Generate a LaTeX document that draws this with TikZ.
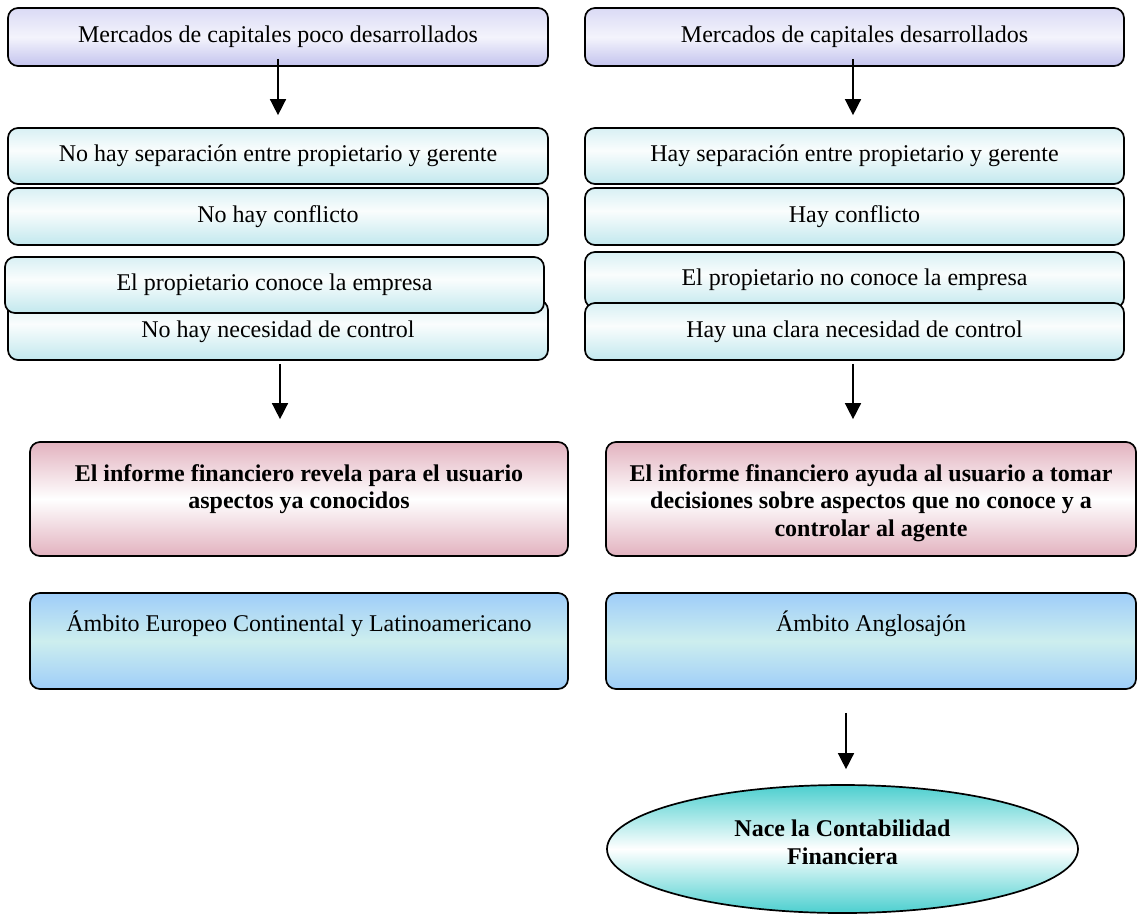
\documentclass[tikz,border=0pt]{standalone}
\usepackage{fontspec}
\setmainfont{Liberation Serif}
\usetikzlibrary{arrows.meta,shapes.geometric}
\definecolor{ptop}{HTML}{DADAF5}
\definecolor{pmid}{HTML}{F4F4FC}
\definecolor{pbot}{HTML}{C3C3EE}
\definecolor{ctop}{HTML}{D8F0F4}
\definecolor{cmid}{HTML}{FAFDFD}
\definecolor{cbot}{HTML}{C2E8EE}
\definecolor{rtop}{HTML}{E2B2BF}
\definecolor{rmid}{HTML}{FFFFFF}
\definecolor{rbot}{HTML}{E2B2BF}
\definecolor{btop}{HTML}{9ECDF9}
\definecolor{bmid}{HTML}{CDEEEE}
\definecolor{bbot}{HTML}{9ECDF9}
\definecolor{ttop}{HTML}{4CCFCF}
\definecolor{tmid}{HTML}{FFFFFF}
\definecolor{tbot}{HTML}{4CCFCF}
\pgfdeclareverticalshading{purpleshade}{100bp}{color(0bp)=(pbot); color(25bp)=(pbot); color(50bp)=(pmid); color(75bp)=(ptop); color(100bp)=(ptop)}
\pgfdeclareverticalshading{cyanshade}{100bp}{color(0bp)=(cbot); color(25bp)=(cbot); color(55bp)=(cmid); color(75bp)=(ctop); color(100bp)=(ctop)}
\pgfdeclareverticalshading{pinkshade}{100bp}{color(0bp)=(rbot); color(25bp)=(rbot); color(50bp)=(rmid); color(75bp)=(rtop); color(100bp)=(rtop)}
\pgfdeclareverticalshading{blueshade}{100bp}{color(0bp)=(bbot); color(25bp)=(bbot); color(50bp)=(bmid); color(75bp)=(btop); color(100bp)=(btop)}
\pgfdeclareverticalshading{tealshade}{100bp}{color(0bp)=(tbot); color(25bp)=(tbot); color(50bp)=(tmid); color(75bp)=(ttop); color(100bp)=(ttop)}
\tikzset{
  txtfont/.style={font=\fontsize{24}{27.5}\selectfont},
  boxbase/.style={draw=black, line width=1.7pt, rounded corners=10pt, inner sep=0pt, txtfont},
  topbox/.style={boxbase, shading=purpleshade, minimum width=540pt, minimum height=58pt},
  midbox/.style={boxbase, shading=cyanshade, minimum width=540pt, minimum height=57pt},
  pinkbox/.style={boxbase, shading=pinkshade, minimum height=114pt},
  bluebox/.style={boxbase, shading=blueshade, minimum height=96pt},
  ovalbox/.style={ellipse, draw=black, line width=1.7pt, shading=tealshade, inner sep=0pt, minimum width=471pt, minimum height=128pt},
  plain/.style={txtfont, align=center, inner sep=0pt},
  boldtxt/.style={plain, font=\fontsize{24}{27.5}\selectfont\bfseries},
  arr/.style={line width=1.5pt, -{Triangle[length=16pt,width=16pt]}}
}
\begin{document}
\begin{tikzpicture}[x=1pt,y=-1pt]
\useasboundingbox (0,0) rectangle (1137,914);
% left column
\node[topbox] (a1) at (278,37) {Mercados de capitales poco desarrollados};
\node[midbox, minimum height=56pt] (b1) at (278,156) {No hay separación entre propietario y gerente};
\node[midbox] (b2) at (278,216.5) {No hay conflicto};
\node[midbox, minimum height=60pt] (b4) at (278,330) {};
\node[plain] (b4t) at (278,332) {No hay necesidad de control};
\node[midbox, minimum width=539pt, minimum height=56pt] (b3) at (274.5,285) {El propietario conoce la empresa};
\node[pinkbox, minimum width=538pt] (c1) at (299,499) {};
\node[boldtxt] (c1t) at (299,489) {El informe financiero revela para el usuario\\aspectos ya conocidos};
\node[bluebox, minimum width=538pt] (d1) at (299,641) {};
\node[plain, anchor=base] (d1t) at (299,631) {Ámbito Europeo Continental y Latinoamericano};
% right column
\node[topbox, minimum width=539pt] (a2) at (854.5,37) {Mercados de capitales desarrollados};
\node[midbox, minimum width=539pt, minimum height=56pt] (e1) at (854.5,156) {Hay separación entre propietario y gerente};
\node[midbox, minimum width=539pt] (e2) at (854.5,216.5) {Hay conflicto};
\node[midbox, minimum width=539pt, minimum height=56pt] (e3) at (854.5,280) {El propietario no conoce la empresa};
\node[midbox, minimum width=539pt, minimum height=57pt] (e4) at (854.5,331.5) {Hay una clara necesidad de control};
\node[pinkbox, minimum width=530pt] (c2) at (871,499) {};
\node[boldtxt] (c2t) at (871,503) {El informe financiero ayuda al usuario a tomar\\decisiones sobre aspectos que no conoce y a\\controlar al agente};
\node[bluebox, minimum width=530pt] (d2) at (871,641) {};
\node[plain, anchor=base] (d2t) at (871,631) {Ámbito Anglosajón};
\node[ovalbox] (ov) at (842.5,849) {};
\node[boldtxt] (ovt) at (842.5,842.5) {Nace la Contabilidad\\Financiera};
% arrows
\draw[arr] ([yshift=8pt]a1.south) -- ([yshift=12pt]b1.north);
\draw[arr] ([xshift=2pt,yshift=-3pt]b4.south) -- ([xshift=-19pt,yshift=22pt]c1.north);
\draw[arr] ([xshift=-1.5pt,yshift=8pt]a2.south) -- ([xshift=-1.5pt,yshift=12pt]e1.north);
\draw[arr] ([xshift=-1.5pt,yshift=-3pt]e4.south) -- ([xshift=-18pt,yshift=22pt]c2.north);
\draw[arr] ([xshift=3.5pt,yshift=-23pt]d2.south -| ov.north) -- ([xshift=3.5pt,yshift=15pt]ov.north);
\end{tikzpicture}
\end{document}
